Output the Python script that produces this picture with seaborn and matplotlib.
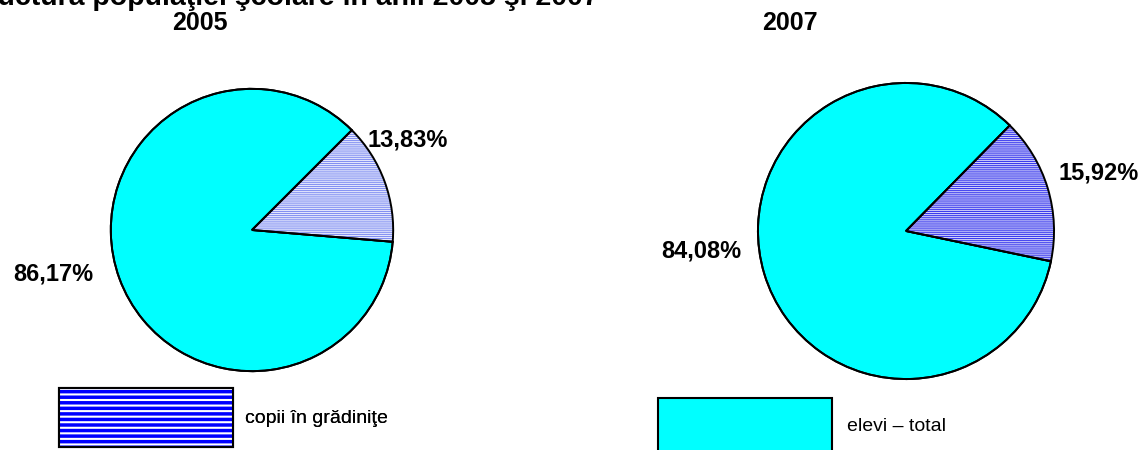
import numpy as np
import matplotlib
matplotlib.use("Agg")
import matplotlib.pyplot as plt
import seaborn as sns
from matplotlib.patches import Patch

# data
years = ["2005", "2007"]
categories = ["elevi – total", "copii în grădiniţe"]
values_2005 = [86.17, 13.83]
values_2007 = [84.08, 15.92]
labels_2005 = ["86,17%", "13,83%"]
labels_2007 = ["84,08%", "15,92%"]
title = "Structura populaţiei şcolare în anii 2005 şi 2007"

sns.set_theme(style="white")
plt.rcParams['font.family'] = ['Liberation Sans', 'DejaVu Sans']
plt.rcParams['text.color'] = 'black'

W, H = 1145, 450
fig = plt.figure(figsize=(W / 100, H / 100), dpi=100)

cyan = "#00ffff"


def px_axes(cx, cy, r):
    return fig.add_axes([(cx - r) / W, (H - cy - r) / H, 2 * r / W, 2 * r / H])


def draw_pie(ax, vals, labels, start, fill, hatch_col, hatch_lw, label_pos):
    plt.rcParams['hatch.linewidth'] = hatch_lw
    wedges, _ = ax.pie(vals, startangle=start, counterclock=True,
                       colors=[cyan, fill],
                       wedgeprops=dict(edgecolor="black", linewidth=1.4))
    wedges[1].set_hatch("--------")
    wedges[1].set_edgecolor(hatch_col)
    wedges[1].set_linewidth(0)
    # black outline over the hatched slice
    ax.pie(vals, startangle=start, counterclock=True,
           colors=["none", "none"],
           wedgeprops=dict(edgecolor="black", linewidth=1.4, fill=False))
    for lab, (ang, rr) in zip(labels, label_pos):
        a = np.deg2rad(ang)
        ax.text(rr * np.cos(a), rr * np.sin(a), lab, ha="center", va="center",
                fontsize=17, fontweight="bold")
    ax.set_xlim(-1.02, 1.02)
    ax.set_ylim(-1.02, 1.02)
    ax.set_aspect("equal")
    ax.axis("off")


ax1 = px_axes(252, 230, 144)
draw_pie(ax1, values_2005, labels_2005, 45, "#e2e5fc", "#7080f0", 0.6,
         [(192.6, 1.44), (30, 1.27)])
ax2 = px_axes(906, 231, 151)
draw_pie(ax2, values_2007, labels_2007, 45.5, "#cfcff9", "#3a3aee", 0.75,
         [(185.7, 1.39), (16.7, 1.36)])

fig.text(200 / W, 1 - 23 / H, years[0], ha="center", va="center",
         fontsize=18, fontweight="bold")
fig.text(790 / W, 1 - 23 / H, years[1], ha="center", va="center",
         fontsize=18, fontweight="bold")
fig.text(-42 / W, 1 - 5 / H, title, ha="left", va="baseline",
         fontsize=20.5, fontweight="bold")

plt.rcParams['hatch.linewidth'] = 2.5
h_kids = Patch(facecolor="white", edgecolor="#0000ff", hatch="---", linewidth=0)
h_kids_frame = Patch(facecolor="none", edgecolor="black", linewidth=1.5)
h_elevi = Patch(facecolor=cyan, edgecolor="black", linewidth=1.5)

leg1 = fig.legend(handles=[(h_kids, h_kids_frame)], labels=[categories[1]],
                  loc="center left", bbox_to_anchor=(59 / W, 1 - 417.5 / H),
                  frameon=False, fontsize=14, handlelength=8.95,
                  handleheight=4.29, handletextpad=0.62, borderpad=0,
                  borderaxespad=0)
fig.add_artist(leg1)
fig.legend(handles=[h_elevi], labels=[categories[0]],
           loc="center left", bbox_to_anchor=(658 / W, 1 - 426 / H),
           frameon=False, fontsize=14, handlelength=8.95,
           handleheight=4.06, handletextpad=0.77, borderpad=0,
           borderaxespad=0)

fig.savefig("out.png", dpi=100)
